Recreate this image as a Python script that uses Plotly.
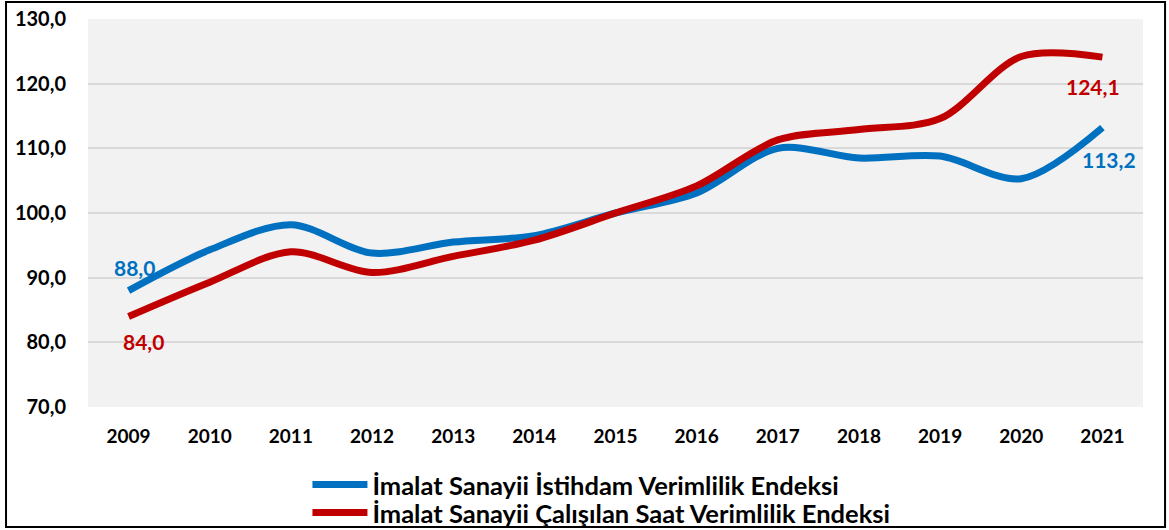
import plotly.graph_objects as go

years = ["2009", "2010", "2011", "2012", "2013", "2014", "2015",
         "2016", "2017", "2018", "2019", "2020", "2021"]
istihdam = [88.0, 94.3, 98.2, 93.8, 95.5, 96.5, 100.0,
            103.1, 110.0, 108.5, 108.8, 105.3, 113.2]
calisilan_saat = [84.0, 89.3, 94.0, 90.8, 93.3, 95.8, 100.0,
                  104.2, 111.3, 112.9, 114.6, 124.2, 124.1]

name_istihdam = "İmalat Sanayii İstihdam Verimlilik Endeksi"
name_saat = "İmalat Sanayii Çalışılan Saat Verimlilik Endeksi"

BLUE = "#0070c0"
RED = "#c00000"
FONT = "Lato"

fig = go.Figure()
fig.add_trace(go.Scatter(
    x=years, y=istihdam, name=name_istihdam, mode="lines",
    line=dict(color=BLUE, width=7, shape="spline", smoothing=0.9),
    legend="legend",
))
fig.add_trace(go.Scatter(
    x=years, y=calisilan_saat, name=name_saat, mode="lines",
    line=dict(color=RED, width=7, shape="spline", smoothing=0.9),
    legend="legend2",
))


def fmt(v):
    return f"{v:.1f}".replace(".", ",")


# value labels at the first and last points (x given as category index)
first, last = 0, len(years) - 1
labels = [
    (first, istihdam[first], BLUE, 6, 23),
    (first, calisilan_saat[first], RED, 15, -25),
    (last, calisilan_saat[last], RED, -9, -29),
    (last, istihdam[last], BLUE, 7, -32),
]
for x, y, c, dx, dy in labels:
    fig.add_annotation(
        x=x, y=y, xref="x", yref="y", text=fmt(y), showarrow=False,
        xshift=dx, yshift=dy,
        font=dict(family=FONT, size=21, color=c, weight="bold"),
    )

# outer frame
fig.add_shape(
    type="rect", xref="paper", yref="paper",
    x0=-0.0777, x1=1.0209, y0=-0.3093, y1=1.0438,
    line=dict(color="black", width=2), fillcolor="rgba(0,0,0,0)",
)

legend_font = dict(family=FONT, size=25.5, color="black", weight="bold")
legend_common = dict(
    xref="container", x=0.263, xanchor="left",
    yref="container", yanchor="middle",
    orientation="v", bgcolor="rgba(0,0,0,0)",
    font=legend_font, itemwidth=55,
)

fig.update_layout(
    width=1169, height=530,
    margin=dict(l=88, r=26, t=19, b=123, autoexpand=False),
    paper_bgcolor="white",
    plot_bgcolor="#f2f2f2",
    separators=", ",
    showlegend=True,
    legend=dict(y=1 - 485 / 530, **legend_common),
    legend2=dict(y=1 - 513 / 530, **legend_common),
    xaxis=dict(
        type="category", range=[-0.5, 12.5],
        showgrid=False, zeroline=False, showline=False,
        ticks="", ticklabelstandoff=16,
        tickfont=dict(family=FONT, size=19, color="black", weight="bold"),
    ),
    yaxis=dict(
        range=[70, 130], dtick=10, tickformat=".1f",
        showgrid=True, gridcolor="#d9d9d9", gridwidth=1.5,
        zeroline=False, showline=False, ticks="",
        ticklabelstandoff=21,
        tickfont=dict(family=FONT, size=20, color="black", weight="bold"),
    ),
)

fig.write_html("out.html")
